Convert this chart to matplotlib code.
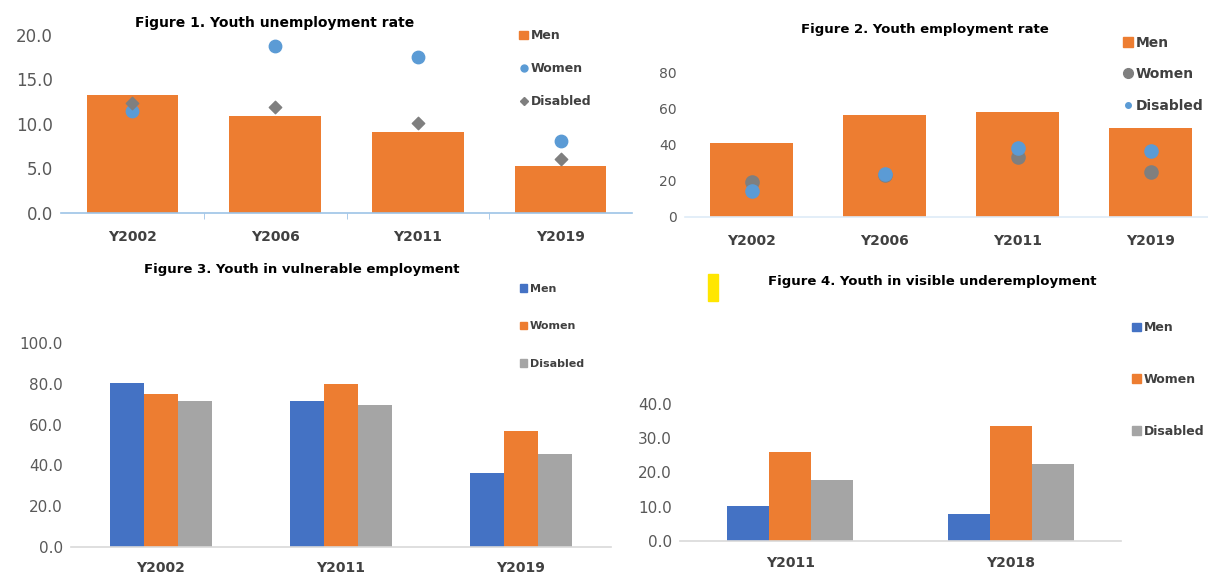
import matplotlib
matplotlib.use("Agg")
import matplotlib.pyplot as plt
from matplotlib.lines import Line2D
from matplotlib.patches import Patch, Rectangle
import numpy as np

# figure 1 - youth unemployment rate
years1 = ["Y2002", "Y2006", "Y2011", "Y2019"]
unemp_men = [13.3, 10.9, 9.1, 5.3]
unemp_women = [11.5, 18.8, 17.5, 8.1]
unemp_disabled = [12.4, 11.9, 10.1, 6.1]

# figure 2 - youth employment rate
years2 = ["Y2002", "Y2006", "Y2011", "Y2019"]
emp_men = [41.0, 56.8, 58.6, 49.3]
emp_women = [19.5, 23.3, 33.5, 25.1]
emp_disabled = [14.5, 23.8, 38.5, 36.8]

# figure 3 - vulnerable employment
years3 = ["Y2002", "Y2011", "Y2019"]
vul_men = [80.6, 71.8, 36.1]
vul_women = [74.9, 79.9, 57.1]
vul_disabled = [71.8, 69.7, 45.4]

# figure 4 - visible underemployment
years4 = ["Y2011", "Y2018"]
under_men = [10.2, 8.0]
under_women = [25.9, 33.6]
under_disabled = [17.7, 22.4]

ORANGE = "#ED7D31"
BLUE = "#4472C4"
LBLUE = "#5B9BD5"
GREY = "#A5A5A5"
DGREY = "#7F7F7F"
TICK = "#595959"
LABEL = "#404040"

W, H = 1208, 574
fig = plt.figure(figsize=(W / 100, H / 100), dpi=100)
fig.patch.set_facecolor("white")


def px_axes(left, right, top, bottom):
    return fig.add_axes([left / W, 1 - bottom / H, (right - left) / W, (bottom - top) / H])


def style(ax, cats, yfs, line_color):
    for s in ["top", "right", "left"]:
        ax.spines[s].set_visible(False)
    ax.spines["bottom"].set_color(line_color)
    ax.spines["bottom"].set_linewidth(1.2)
    ax.set_xticks(range(len(cats)))
    ax.set_xticklabels(cats, fontsize=10, fontweight="bold", color=LABEL)
    ax.tick_params(axis="x", length=0, pad=12)
    ax.tick_params(axis="y", length=0, labelsize=yfs, labelcolor=TICK, pad=6)
    ax.set_xlim(-0.5, len(cats) - 0.5)
    ax.patch.set_alpha(0)


def legend(ax, handles, labels, x, y, fs, spacing):
    ax.legend(handles, labels, loc="upper left", bbox_to_anchor=(x / W, 1 - y / H),
              bbox_transform=fig.transFigure, frameon=False, handlelength=0.7,
              handleheight=0.7, handletextpad=0.2, labelspacing=spacing,
              prop={"size": fs, "weight": "bold"}, labelcolor=LABEL, borderpad=0)


# ---- Figure 1
ax1 = px_axes(61, 632, 35, 213)
x1 = np.arange(len(years1))
ax1.bar(x1, unemp_men, width=0.64, color=ORANGE, zorder=2)
ax1.scatter(x1, unemp_women, s=80, color=LBLUE, zorder=3)
ax1.scatter(x1, unemp_disabled, s=40, marker="D", color=DGREY, zorder=4)
ax1.set_ylim(0, 20)
ax1.set_yticks([0, 5, 10, 15, 20])
ax1.set_yticklabels(["0.0", "5.0", "10.0", "15.0", "20.0"])
style(ax1, years1, 12, "#9DC3E6")
ax1.set_xticks([0.5, 1.5, 2.5], minor=True)
ax1.tick_params(axis="x", which="minor", length=4, color="#9DC3E6", direction="out")
ax1.set_xlim(-0.5, 3.5)
ax1.spines["bottom"].set_clip_on(False)
fig.text(275 / W, 1 - 23 / H, "Figure 1. Youth unemployment rate", ha="center", va="center",
         fontsize=10, fontweight="bold", color="black")
legend(ax1,
       [Patch(color=ORANGE),
        Line2D([], [], marker="o", ls="", color=LBLUE, markersize=5),
        Line2D([], [], marker="D", ls="", color=DGREY, markersize=4)],
       ["Men", "Women", "Disabled"], 513, 23, 9, 1.6)

# ---- Figure 2
ax2 = px_axes(685, 1217, 73, 217)
x2 = np.arange(len(years2))
ax2.bar(x2, emp_men, width=0.63, color=ORANGE, zorder=2)
ax2.scatter(x2, emp_women, s=90, color=DGREY, zorder=3)
ax2.scatter(x2, emp_disabled, s=90, color=LBLUE, zorder=4)
ax2.set_ylim(0, 80)
ax2.set_yticks([0, 20, 40, 60, 80])
style(ax2, years2, 10, "#DEEBF7")
fig.text(925 / W, 1 - 29 / H, "Figure 2. Youth employment rate", ha="center", va="center",
         fontsize=9.5, fontweight="bold", color="black")
legend(ax2,
       [Patch(color=ORANGE),
        Line2D([], [], marker="o", ls="", color=DGREY, markersize=7),
        Line2D([], [], marker="o", ls="", color=LBLUE, markersize=4)],
       ["Men", "Women", "Disabled"], 1116, 29, 10, 1.25)

# ---- Figure 3
ax3 = px_axes(71, 611, 343, 547)
x3 = np.arange(len(years3))
bw = 0.19
ax3.bar(x3 - bw, vul_men, width=bw, color=BLUE, zorder=2)
ax3.bar(x3, vul_women, width=bw, color=ORANGE, zorder=2)
ax3.bar(x3 + bw, vul_disabled, width=bw, color=GREY, zorder=2)
ax3.set_ylim(0, 100)
ax3.set_yticks(range(0, 101, 20))
ax3.set_yticklabels([f"{v:.1f}" for v in range(0, 101, 20)])
style(ax3, years3, 11, "#D9D9D9")
ax3.tick_params(axis="x", pad=10)
fig.text(302 / W, 1 - 270 / H, "Figure 3. Youth in vulnerable employment", ha="center",
         va="center", fontsize=9.5, fontweight="bold", color="black")
legend(ax3, [Patch(color=BLUE), Patch(color=ORANGE), Patch(color=GREY)],
       ["Men", "Women", "Disabled"], 514, 278, 8, 2.5)

# ---- Figure 4
ax4 = px_axes(680, 1121, 404, 541)
x4 = np.arange(len(years4))
bw4 = 0.19
ax4.bar(x4 - bw4, under_men, width=bw4, color=BLUE, zorder=2)
ax4.bar(x4, under_women, width=bw4, color=ORANGE, zorder=2)
ax4.bar(x4 + bw4, under_disabled, width=bw4, color=GREY, zorder=2)
ax4.set_ylim(0, 40)
ax4.set_yticks(range(0, 41, 10))
ax4.set_yticklabels([f"{v:.1f}" for v in range(0, 41, 10)])
style(ax4, years4, 11, "#D9D9D9")
ax4.tick_params(axis="x", pad=11)
fig.text(932 / W, 1 - 281 / H, "Figure 4. Youth in visible underemployment", ha="center",
         va="center", fontsize=9.5, fontweight="bold", color="black")
fig.patches.append(Rectangle((708 / W, 1 - 301 / H), 10 / W, 27 / H,
                             transform=fig.transFigure, color="#FFE600"))
legend(ax4, [Patch(color=BLUE), Patch(color=ORANGE), Patch(color=GREY)],
       ["Men", "Women", "Disabled"], 1126, 315, 9, 3.1)

fig.savefig("out.png", dpi=100)
